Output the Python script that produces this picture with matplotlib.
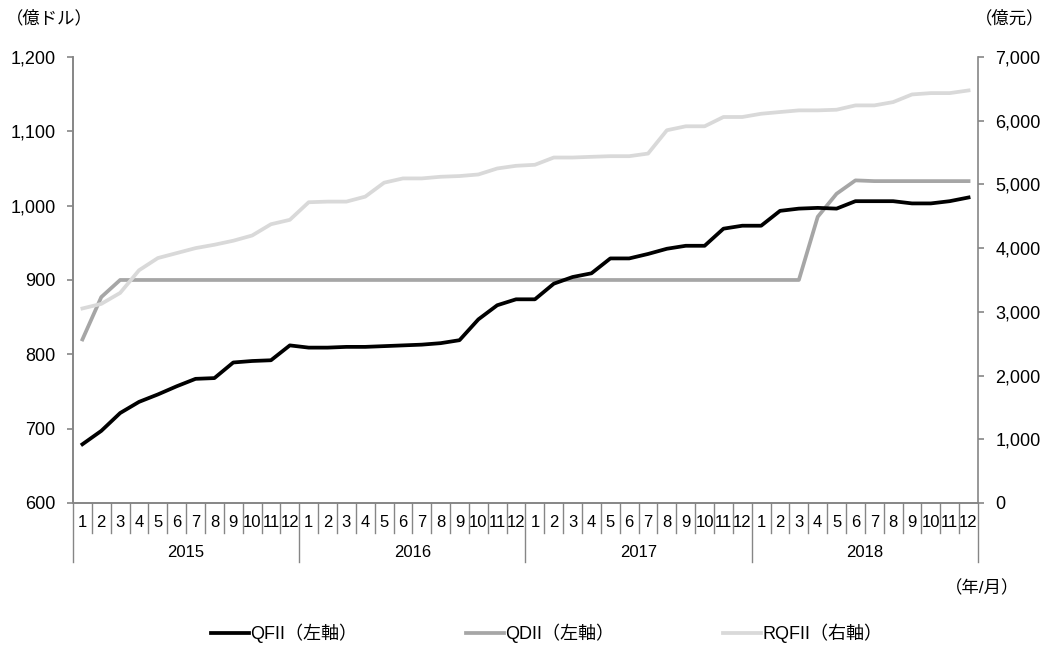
import matplotlib.pyplot as plt
import matplotlib.transforms as mtrans
from matplotlib.ticker import FuncFormatter

plt.rcParams['font.family'] = ['Liberation Sans', 'Noto Sans CJK JP']

# データ（2015年1月～2018年12月、月次）
years = ['2015', '2016', '2017', '2018']
months = [str(m) for m in range(1, 13)]

# QFII（億ドル、左軸）
qfii = [679, 697, 721, 736, 746, 757, 767, 768, 789, 791, 792, 812,
        809, 809, 810, 810, 811, 812, 813, 815, 819, 847, 866, 874,
        874, 895, 904, 909, 929, 929, 935, 942, 946, 946, 969, 973,
        973, 993, 996, 997, 996, 1006, 1006, 1006, 1003, 1003, 1006, 1011]
# QDII（億ドル、左軸）
qdii = [820, 877, 900, 900, 900, 900, 900, 900, 900, 900, 900, 900,
        900, 900, 900, 900, 900, 900, 900, 900, 900, 900, 900, 900,
        900, 900, 900, 900, 900, 900, 900, 900, 900, 900, 900, 900,
        900, 900, 900, 985, 1016, 1034, 1033, 1033, 1033, 1033, 1033, 1033]
# RQFII（億元、右軸）
rqfii = [3053, 3125, 3297, 3652, 3844, 3922, 4000, 4053, 4116, 4198, 4375, 4444,
         4720, 4730, 4730, 4808, 5027, 5094, 5094, 5120, 5131, 5156, 5250, 5292,
         5308, 5422, 5422, 5433, 5443, 5443, 5484, 5850, 5912, 5912, 6058, 6058,
         6109, 6136, 6162, 6162, 6172, 6240, 6240, 6292, 6412, 6433, 6433, 6475]

grey = '#868686'
fmt = FuncFormatter(lambda v, p: '{:,.0f}'.format(v))

fig = plt.figure(figsize=(10.49, 6.46), dpi=100)
ax = fig.add_axes([0.0696, 0.2214, 0.8627, 0.6904])
ax2 = ax.twinx()

x = list(range(len(qfii)))
l2, = ax.plot(x, qdii, color='#a6a6a6', lw=2.7, label='QDII（左軸）')
l1, = ax.plot(x, qfii, color='black', lw=2.7, label='QFII（左軸）')
l3, = ax2.plot(x, rqfii, color='#d9d9d9', lw=2.7, label='RQFII（右軸）')

ax.set_xlim(-0.5, len(x) - 0.5)
ax.set_ylim(600, 1200)
ax.set_yticks(range(600, 1201, 100))
ax2.set_ylim(0, 7000)
ax2.set_yticks(range(0, 7001, 1000))
ax.yaxis.set_major_formatter(fmt)
ax2.yaxis.set_major_formatter(fmt)
ax.set_xticks([])
ax2.set_xticks([])

for a in (ax, ax2):
    a.spines['top'].set_visible(False)
    for s in ('left', 'right', 'bottom'):
        a.spines[s].set_color(grey)
        a.spines[s].set_linewidth(1.2)
    a.tick_params(axis='y', direction='out', length=4, width=1.2, color=grey,
                  labelsize=13, pad=8.5)
ax.spines['right'].set_visible(False)

# 年/月の区切り
trans = mtrans.blended_transform_factory(ax.transData, ax.transAxes)
for i in range(len(x) + 1):
    depth = -0.133 if i % 12 == 0 else -0.067
    ax.plot([i - 0.5, i - 0.5], [0, depth], color=grey, lw=1, transform=trans, clip_on=False)
for i in x:
    ax.text(i, -0.043, months[i % 12], transform=trans, ha='center', va='center', fontsize=12)
for k, yr in enumerate(years):
    ax.text(k * 12 + 5.5, -0.11, yr, transform=trans, ha='center', va='center', fontsize=12)

fig.text(0.006, 0.972, '（億ドル）', ha='left', va='center', fontsize=12.5)
fig.text(0.996, 0.972, '（億元）', ha='right', va='center', fontsize=12.5)
fig.text(0.972, 0.09, '（年/月）', ha='right', va='center', fontsize=12.5)

fig.legend([l1, l2, l3], [l1.get_label(), l2.get_label(), l3.get_label()],
           loc='center', bbox_to_anchor=(0.521, 0.019), ncol=3, frameon=False,
           fontsize=13, handlelength=2.1, handletextpad=0.1, columnspacing=6)

fig.savefig('out.png', dpi=100)
